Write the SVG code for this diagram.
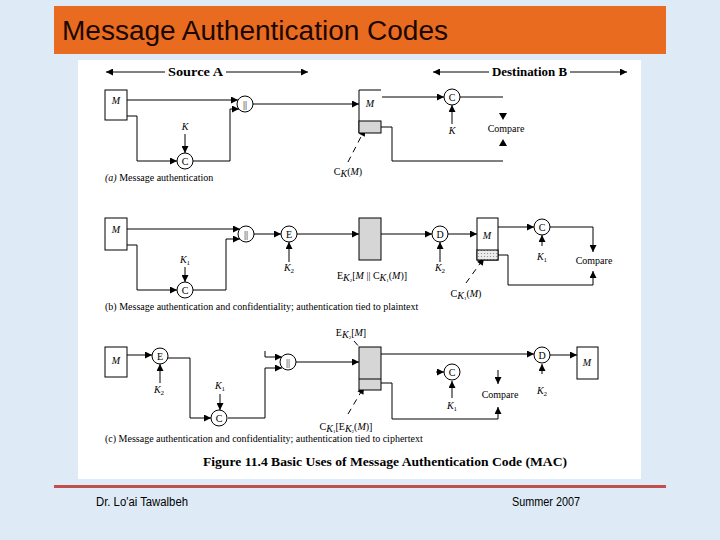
<svg xmlns="http://www.w3.org/2000/svg" width="720" height="540" viewBox="0 0 720 540">
<defs>
<marker id="ah" viewBox="0 0 10 10" refX="10" refY="5" markerWidth="8" markerHeight="7" markerUnits="userSpaceOnUse" orient="auto-start-reverse">
<path d="M0,0 L10,5 L0,10 z" fill="#000"/>
</marker>
<pattern id="dots" width="3" height="3" patternUnits="userSpaceOnUse">
<rect width="3" height="3" fill="#ececec"/>
<circle cx="1.5" cy="1.5" r="0.6" fill="#888"/>
</pattern>
<style>
.ln{fill:none;stroke:#000;stroke-width:1}
.ar{fill:none;stroke:#000;stroke-width:1;marker-end:url(#ah)}
.dash{fill:none;stroke:#000;stroke-width:1;stroke-dasharray:6,5;marker-end:url(#ah)}
.box{fill:#fff;stroke:#000;stroke-width:1}
.gray{fill:#d6d6d6;stroke:#000;stroke-width:1}
.cir{fill:#fff;stroke:#000;stroke-width:1}
.t{font-family:"Liberation Serif",serif;font-size:10px;fill:#000}
.it{font-family:"Liberation Serif",serif;font-size:10px;font-style:italic;fill:#000}
.ct{font-family:"Liberation Serif",serif;font-size:10px;fill:#000;text-anchor:middle}
.mid{text-anchor:middle}
.hd{font-family:"Liberation Serif",serif;font-size:13px;font-weight:bold;fill:#000}
.tri{fill:#000}
</style>
</defs>
<rect width="720" height="540" fill="#deebf7"/>
<rect x="54" y="6" width="612" height="48" fill="#e96b20"/>
<text x="62" y="40" font-family="Liberation Sans, Arial, sans-serif" font-size="27" fill="#1a0800" textLength="386" lengthAdjust="spacingAndGlyphs">Message Authentication Codes</text>
<rect x="78" y="60" width="563" height="419" fill="#fff"/>
<rect x="54" y="485" width="612" height="3" fill="#c0504d"/>
<text x="96" y="506" font-family="Liberation Sans, Arial, sans-serif" font-size="12" fill="#000" textLength="92" lengthAdjust="spacingAndGlyphs">Dr. Lo'ai Tawalbeh</text>
<text x="512" y="506" font-family="Liberation Sans, Arial, sans-serif" font-size="12" fill="#000" textLength="68" lengthAdjust="spacingAndGlyphs">Summer 2007</text>

<g id="headers">
<line class="ar" x1="165" y1="72" x2="106" y2="72"/>
<line class="ar" x1="226" y1="72" x2="308" y2="72"/>
<text class="hd" x="168" y="76" textLength="55" lengthAdjust="spacingAndGlyphs">Source A</text>
<line class="ar" x1="489" y1="72" x2="433" y2="72"/>
<line class="ar" x1="570" y1="72" x2="627" y2="72"/>
<text class="hd" x="492" y="76" textLength="75" lengthAdjust="spacingAndGlyphs">Destination B</text>
</g>

<g id="connectors">
<!-- (a) -->
<line class="ar" x1="127" y1="100" x2="238" y2="100"/>
<polyline class="ar" points="127,116 137,116 137,161 177,161"/>
<line class="ar" x1="185" y1="134" x2="185" y2="153"/>
<polyline class="ar" points="193,161 230,161 230,109 239,109"/>
<line class="ar" x1="253" y1="104" x2="359" y2="104"/>
<line class="ar" x1="382" y1="97" x2="444" y2="97"/>
<line class="ar" x1="452" y1="124" x2="452" y2="105"/>
<line class="ln" x1="460" y1="97" x2="503" y2="97"/>
<polygon class="tri" points="499,113 507,113 503,120"/>
<polygon class="tri" points="499,146 507,146 503,139"/>
<polyline class="ln" points="381,127 392,127 392,161 503,161"/>
<line class="dash" x1="348" y1="162" x2="365" y2="129"/>
<!-- (b) -->
<line class="ar" x1="127" y1="229" x2="240" y2="229"/>
<polyline class="ar" points="127,245 137,245 137,290 177,290"/>
<line class="ar" x1="185" y1="267" x2="185" y2="282"/>
<polyline class="ar" points="193,290 226,290 226,239 240,239"/>
<line class="ar" x1="254" y1="234" x2="281" y2="234"/>
<line class="ar" x1="289" y1="262" x2="289" y2="242"/>
<line class="ar" x1="297" y1="234" x2="359" y2="234"/>
<line class="ar" x1="381" y1="234" x2="432" y2="234"/>
<line class="ar" x1="440" y1="262" x2="440" y2="242"/>
<line class="ar" x1="448" y1="234" x2="477" y2="234"/>
<line class="ar" x1="498" y1="227" x2="534" y2="227"/>
<line class="ar" x1="542" y1="246" x2="542" y2="235"/>
<polyline class="ar" points="550,227 593,227 593,252"/>
<polyline class="ar" points="498,255 508,255 508,285 593,285 593,271"/>
<line class="dash" x1="466" y1="283" x2="484" y2="258"/>
<!-- (c) -->
<line class="ar" x1="127" y1="355" x2="152" y2="355"/>
<line class="ar" x1="160" y1="383" x2="160" y2="364"/>
<polyline class="ar" points="168,358 190,358 190,418 211,418"/>
<line class="ar" x1="220" y1="394" x2="220" y2="410"/>
<polyline class="ar" points="228,418 265,418 265,368 282,368"/>
<polyline class="ar" points="265,351 265,357 282,357"/>
<line class="ar" x1="296" y1="362" x2="359" y2="362"/>
<line class="ar" x1="381" y1="354" x2="534" y2="354"/>
<polyline class="ar" points="381,383 392,383 392,419 498,419 498,407"/>
<line class="dash" x1="354" y1="341" x2="368" y2="357"/>
<line class="dash" x1="348" y1="414" x2="364" y2="387"/>
<line class="ar" x1="542" y1="374" x2="542" y2="364"/>
<line class="ar" x1="436" y1="372" x2="444" y2="372"/>
<line class="ar" x1="452" y1="398" x2="452" y2="381"/>
<line class="ar" x1="498" y1="370" x2="498" y2="384"/>
<line class="ar" x1="550" y1="355" x2="577" y2="355"/>
</g>

<!-- (a) nodes -->
<g id="a-M"><rect class="box" x="105" y="90" width="22" height="30"/><text class="it mid" x="116" y="104">M</text></g>
<g id="a-concat"><circle class="cir" cx="245" cy="104" r="8"/><text class="ct" x="245" y="107.5" fill="#000">||</text></g>
<g id="a-K"><text class="it mid" x="185" y="130">K</text></g>
<g id="a-C"><circle class="cir" cx="185" cy="161" r="8"/><text class="ct" x="185" y="164.5">C</text></g>
<g id="a-recv">
<path class="ln" d="M381,90 H359 V133"/>
<rect class="gray" x="359" y="121" width="22" height="12"/>
<text class="it mid" x="370" y="107">M</text>
</g>
<g id="a-CKM"><text class="t mid" x="348" y="175">C<tspan class="it" font-size="7" dy="2">K</tspan><tspan dy="-2">(</tspan><tspan class="it">M</tspan>)</text></g>
<g id="a-C2"><circle class="cir" cx="452" cy="97" r="8"/><text class="ct" x="452" y="100.5">C</text></g>
<g id="a-K2"><text class="it mid" x="452" y="134">K</text></g>
<g id="a-compare"><text class="t mid" x="506" y="132">Compare</text></g>
<text class="t" x="105" y="181"><tspan font-style="italic">(a)</tspan> Message authentication</text>

<!-- (b) nodes -->
<g id="b-M"><rect class="box" x="105" y="218" width="22" height="32"/><text class="it mid" x="116" y="233">M</text></g>
<g id="b-concat"><circle class="cir" cx="246" cy="234" r="8"/><text class="ct" x="246" y="237.5">||</text></g>
<g id="b-K1"><text class="it mid" x="185" y="263">K<tspan font-size="7" font-style="normal" dy="2">1</tspan></text></g>
<g id="b-C"><circle class="cir" cx="185" cy="290" r="8"/><text class="ct" x="185" y="293.5">C</text></g>
<g id="b-E"><circle class="cir" cx="289" cy="234" r="8"/><text class="ct" x="289" y="237.5">E</text></g>
<g id="b-K2"><text class="it mid" x="289" y="271">K<tspan font-size="7" font-style="normal" dy="2">2</tspan></text></g>
<g id="b-cipher"><rect class="gray" x="359" y="218" width="22" height="42"/></g>
<g id="b-label"><text class="t mid" x="372" y="279">E<tspan class="it" font-size="7" dy="2">K</tspan><tspan font-size="5" dy="1">2</tspan><tspan dy="-3">[</tspan><tspan class="it">M</tspan> || C<tspan class="it" font-size="7" dy="2">K</tspan><tspan font-size="5" dy="1">1</tspan><tspan dy="-3">(</tspan><tspan class="it">M</tspan>)]</text></g>
<g id="b-D"><circle class="cir" cx="440" cy="234" r="8"/><text class="ct" x="440" y="237.5">D</text></g>
<g id="b-K2b"><text class="it mid" x="440" y="271">K<tspan font-size="7" font-style="normal" dy="2">2</tspan></text></g>
<g id="b-recv">
<rect class="box" x="477" y="218" width="21" height="42"/>
<rect x="477" y="250" width="21" height="10" fill="url(#dots)" stroke="#000" stroke-width="1"/>
<text class="it mid" x="487" y="239">M</text>
</g>
<g id="b-C2"><circle class="cir" cx="542" cy="227" r="8"/><text class="ct" x="542" y="230.5">C</text></g>
<g id="b-K1b"><text class="it mid" x="542" y="260">K<tspan font-size="7" font-style="normal" dy="2">1</tspan></text></g>
<g id="b-compare"><text class="t mid" x="594" y="264">Compare</text></g>
<g id="b-CK1M"><text class="t mid" x="466" y="297">C<tspan class="it" font-size="7" dy="2">K</tspan><tspan font-size="5" dy="1">1</tspan><tspan dy="-3">(</tspan><tspan class="it">M</tspan>)</text></g>
<text class="t" x="105" y="310">(b) Message authentication and confidentiality; authentication tied to plaintext</text>

<!-- (c) nodes -->
<g id="c-M"><rect class="box" x="105" y="347" width="22" height="30"/><text class="it mid" x="116" y="364">M</text></g>
<g id="c-E"><circle class="cir" cx="160" cy="356" r="8"/><text class="ct" x="160" y="359.5">E</text></g>
<g id="c-K2"><text class="it mid" x="159" y="393">K<tspan font-size="7" font-style="normal" dy="2">2</tspan></text></g>
<g id="c-K1"><text class="it mid" x="220" y="389">K<tspan font-size="7" font-style="normal" dy="2">1</tspan></text></g>
<g id="c-C"><circle class="cir" cx="219" cy="418" r="8"/><text class="ct" x="219" y="421.5">C</text></g>
<g id="c-concat"><circle class="cir" cx="288" cy="362" r="8"/><text class="ct" x="288" y="365.5">||</text></g>
<g id="c-recv">
<rect class="gray" x="359" y="347" width="22" height="43"/>
<line class="ln" x1="359" y1="379" x2="381" y2="379"/>
</g>
<g id="c-EK2M"><text class="t mid" x="351" y="336">E<tspan class="it" font-size="7" dy="2">K</tspan><tspan font-size="5" dy="1">2</tspan><tspan dy="-3">[</tspan><tspan class="it">M</tspan>]</text></g>
<g id="c-label"><text class="t mid" x="346" y="430">C<tspan class="it" font-size="7" dy="2">K</tspan><tspan font-size="5" dy="1">1</tspan><tspan dy="-3">[E</tspan><tspan class="it" font-size="7" dy="2">K</tspan><tspan font-size="5" dy="1">2</tspan><tspan dy="-3">(</tspan><tspan class="it">M</tspan>)]</text></g>
<g id="c-C2"><circle class="cir" cx="452" cy="372" r="8"/><text class="ct" x="452" y="375.5">C</text></g>
<g id="c-K1b"><text class="it mid" x="452" y="409">K<tspan font-size="7" font-style="normal" dy="2">1</tspan></text></g>
<g id="c-compare"><text class="t mid" x="500" y="398">Compare</text></g>
<g id="c-D"><circle class="cir" cx="542" cy="355" r="8"/><text class="ct" x="542" y="358.5">D</text></g>
<g id="c-K2b"><text class="it mid" x="542" y="394">K<tspan font-size="7" font-style="normal" dy="2">2</tspan></text></g>
<g id="c-out"><rect class="box" x="577" y="347" width="21" height="32"/><text class="it mid" x="587" y="366">M</text></g>
<text class="t" x="105" y="442">(c) Message authentication and confidentiality; authentication tied to ciphertext</text>

<text class="hd mid" x="385" y="466" textLength="364" lengthAdjust="spacingAndGlyphs">Figure 11.4  Basic Uses of Message Authentication Code (MAC)</text>
</svg>
